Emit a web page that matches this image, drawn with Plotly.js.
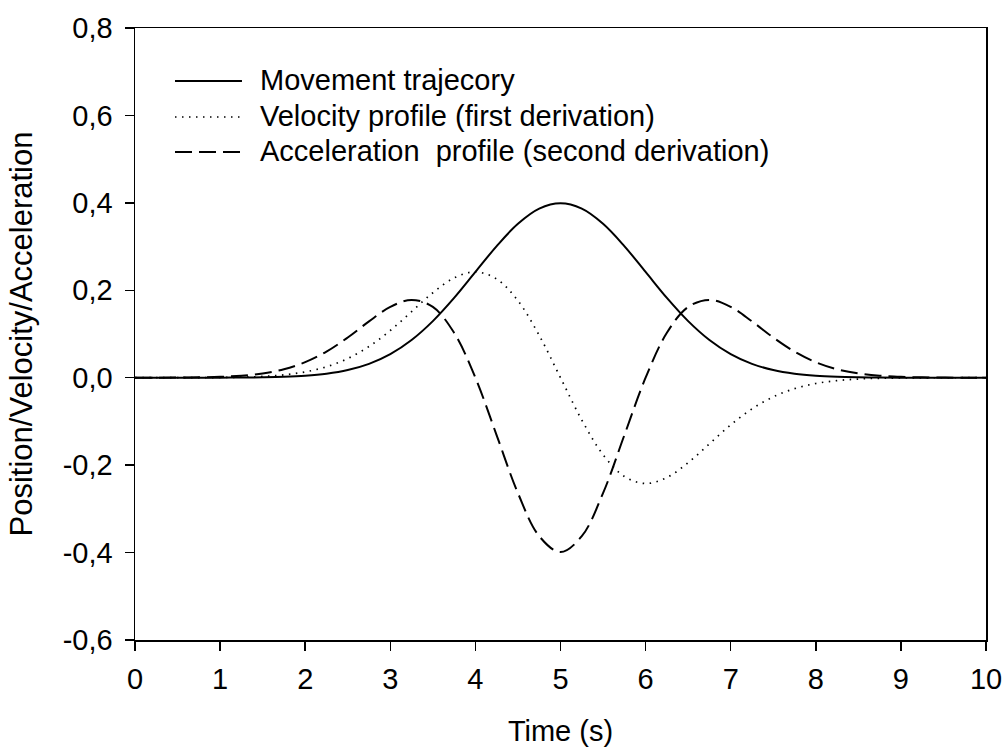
<!DOCTYPE html>
<html>
<head>
<meta charset="utf-8">
<script src="https://cdn.plot.ly/plotly-3.0.1.min.js"></script>
<style>html,body{margin:0;padding:0;background:#fff;}#chart{width:1003px;height:747px;}</style>
</head>
<body>
<div id="chart"></div>
<script>
const timeS = [0,0.25,0.5,0.75,1,1.25,1.5,1.75,2,2.25,2.5,2.75,3,3.25,3.5,3.75,4,4.25,4.5,4.75,5,
  5.25,5.5,5.75,6,6.25,6.5,6.75,7,7.25,7.5,7.75,8,8.25,8.5,8.75,9,9.25,9.5,9.75,10];
const position = [0,0,0,0.0001,0.0001,0.0004,0.0009,0.0020,0.0044,0.0091,0.0175,0.0317,0.0540,0.0863,0.1295,0.1826,0.2420,0.3011,0.3521,0.3867,0.3989,
  0.3867,0.3521,0.3011,0.2420,0.1826,0.1295,0.0863,0.0540,0.0317,0.0175,0.0091,0.0044,0.0020,0.0009,0.0004,0.0001,0.0001,0,0,0];
const velocity = [0,0,0.0001,0.0002,0.0005,0.0013,0.0030,0.0066,0.0133,0.0250,0.0438,0.0714,0.1080,0.1511,0.1943,0.2283,0.2420,0.2259,0.1760,0.0967,0,
  -0.0967,-0.1760,-0.2259,-0.2420,-0.2283,-0.1943,-0.1511,-0.1080,-0.0714,-0.0438,-0.0250,-0.0133,-0.0066,-0.0030,-0.0013,-0.0005,-0.0002,-0.0001,0,0];
const acceleration = [0,0.0001,0.0003,0.0008,0.0020,0.0046,0.0098,0.0194,0.0355,0.0597,0.0920,0.1289,0.1620,0.1780,0.1619,0.1027,0,-0.1317,-0.2641,-0.3625,-0.3989,
  -0.3625,-0.2641,-0.1317,0,0.1027,0.1619,0.1780,0.1620,0.1289,0.0920,0.0597,0.0355,0.0194,0.0098,0.0046,0.0020,0.0008,0.0003,0.0001,0];
const seriesNames = ['Movement trajecory','Velocity profile (first derivation)','Acceleration  profile (second derivation)'];
const xTicks = [0,1,2,3,4,5,6,7,8,9,10];
const yTicks = [-0.6,-0.4,-0.2,0,0.2,0.4,0.6,0.8];
const yTickText = ['-0,6','-0,4','-0,2','0,0','0,2','0,4','0,6','0,8'];

const FONT = '"Liberation Sans", Arial, sans-serif';
const lineStyles = [
  {color: '#000', width: 2},
  {color: '#000', width: 1.7, dash: '1.5px,5.5px'},
  {color: '#000', width: 2, dash: '17px,7px'}
];
const seriesY = [position, velocity, acceleration];
const traces = seriesY.map((ys, i) => ({
  x: timeS, y: ys, name: seriesNames[i], mode: 'lines', showlegend: false,
  line: Object.assign({shape: 'spline'}, lineStyles[i])
}));

// Legend drawn in paper coordinates (sample line + label per series)
const legendRowsY = [0.9134, 0.8546, 0.7974];
const legendShapes = lineStyles.map((st, i) => ({
  type: 'line', xref: 'paper', yref: 'paper',
  x0: 0.047, x1: 0.1257, y0: legendRowsY[i], y1: legendRowsY[i],
  line: {color: st.color, width: st.width, dash: st.dash || 'solid'}
}));
const legendLabels = seriesNames.map((nm, i) => ({
  xref: 'paper', yref: 'paper', x: 0.1445, y: legendRowsY[i] + 0.002,
  xanchor: 'left', yanchor: 'middle', showarrow: false, text: nm,
  font: {family: FONT, size: 29, color: '#000'}
}));

const axisCommon = {
  showline: true, mirror: true, linecolor: '#000', linewidth: 1.5,
  ticks: 'outside', ticklen: 9, tickwidth: 1.5, tickcolor: '#000',
  showgrid: false, zeroline: false,
  tickfont: {family: FONT, size: 29, color: '#000'}
};
const layout = {
  width: 1003, height: 747,
  margin: {l: 135, r: 17, t: 28, b: 107},
  paper_bgcolor: '#fff', plot_bgcolor: '#fff',
  font: {family: FONT, color: '#000'},
  showlegend: false,
  shapes: legendShapes,
  annotations: legendLabels,
  xaxis: Object.assign({}, axisCommon, {range: [0, 10], tickvals: xTicks, ticktext: xTicks.map(String),
    ticklabelstandoff: 4,
    title: {text: 'Time (s)', font: {family: FONT, size: 29, color: '#000'}, standoff: 29}}),
  yaxis: Object.assign({}, axisCommon, {range: [-0.6, 0.8], tickvals: yTicks, ticktext: yTickText,
    ticklabelstandoff: 6,
    title: {text: 'Position/Velocity/Acceleration', font: {family: FONT, size: 31, color: '#000'}, standoff: 21}})
};
Plotly.newPlot('chart', traces, layout, {displayModeBar: false, staticPlot: true});
</script>
</body>
</html>
